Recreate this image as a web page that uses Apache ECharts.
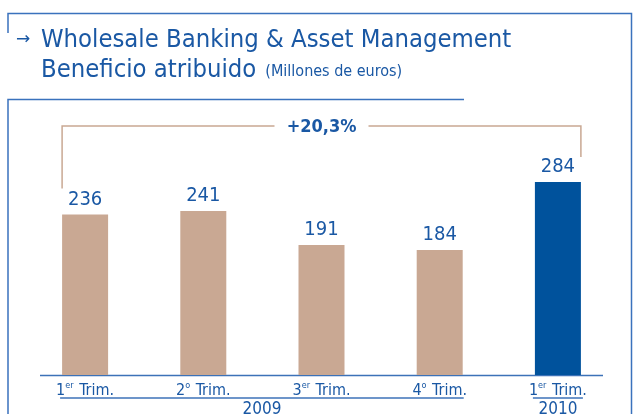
<!DOCTYPE html>
<html>
<head>
<meta charset="utf-8">
<script src="https://cdn.jsdelivr.net/npm/echarts@6/dist/echarts.min.js"></script>
<style>
  html, body { margin: 0; padding: 0; background: #fff; }
  #chart { width: 634px; height: 414px; }
</style>
</head>
<body>
<div id="chart"></div>
<script>
// Quarterly attributable profit, millions of euros
const quarters = ['1er Trim.', '2º Trim.', '3er Trim.', '4º Trim.', '1er Trim.'];
const years = ['2009', '2010'];
const profit = [236, 241, 191, 184, 284];
const growthLabel = '+20,3%';

const BLUE = '#1a58a4';
const BAR_BLUE = '#00529c';
const TAN = '#c9a893';
const FRAME = '#3a72bd';
const FONT = '"Liberation Sans Narrow", "DejaVu Sans Condensed", "Liberation Sans", sans-serif';

// split "1er Trim." into number, superscript and rest for rich text
function quarterLabel(q) {
  const m = q.match(/^(\d)(er|º)\s(.*)$/);
  if (!m) return q;
  return '{n|' + m[1] + '}{s|' + (m[2] === 'º' ? 'o' : m[2]) + '}{n| ' + m[3] + '}';
}

const chart = echarts.init(document.getElementById('chart'));

const option = {
  animation: false,
  grid: { left: 26, right: 17, top: 103, bottom: 39 },
  xAxis: {
    type: 'category',
    data: quarters,
    axisLine: { show: false },
    axisTick: { show: false },
    axisLabel: {
      interval: 0,
      margin: 6,
      formatter: quarterLabel,
      rich: {
        n: { fontFamily: FONT, fontSize: 16, color: BLUE, verticalAlign: 'bottom', lineHeight: 18 },
        s: { fontFamily: FONT, fontSize: 9, color: BLUE, verticalAlign: 'top', padding: [0, 1, 8, 0], lineHeight: 18 }
      }
    }
  },
  yAxis: {
    type: 'value', min: 0, max: 400,
    show: false, splitLine: { show: false }
  },
  series: [{
    type: 'bar',
    barWidth: 46,
    data: profit.map((v, i) => ({
      value: v,
      itemStyle: { color: i === profit.length - 1 ? BAR_BLUE : TAN }
    })),
    label: {
      show: true, position: 'top', distance: 5,
      fontFamily: FONT, fontSize: 20, color: BLUE
    }
  }]
};
chart.setOption(option);

// Frame, title, axis rule, underlines, year captions and growth bracket
function px(i, v) { return chart.convertToPixel({ gridIndex: 0 }, [i, v]); }
const last = profit.length - 1;
const half = 23;
const p0 = px(0, profit[0]);
const pL = px(last, profit[last]);
const p3 = px(3, 0);
const base = px(0, 0)[1];
const mid = px(2, 0)[0];
const bracketY = pL[1] - 56;

const g = [];
// header frame
g.push({ type: 'polyline', shape: { points: [[8, 33], [8, 13.5], [631.5, 13.5], [631.5, 414]] },
  style: { stroke: FRAME, lineWidth: 1.5, fill: null } });
g.push({ type: 'polyline', shape: { points: [[8, 414], [8, 99.5], [464, 99.5]] },
  style: { stroke: FRAME, lineWidth: 1.5, fill: null } });
// title
g.push({ type: 'text', left: 16, top: 31, style: { text: '→', fontFamily: 'DejaVu Sans', fontSize: 17, fill: BLUE } });
g.push({ type: 'text', left: 41, top: 28, style: { text: 'Wholesale Banking & Asset Management',
  fontFamily: FONT, fontSize: 25.4, fill: BLUE } });
g.push({ type: 'text', left: 41, top: 58, style: {
  text: '{a|Beneficio atribuido}{b|(Millones de euros)}',
  rich: {
    a: { fontFamily: FONT, fontSize: 25.4, fill: BLUE, verticalAlign: 'bottom', padding: [0, 9, 0, 0] },
    b: { fontFamily: FONT, fontSize: 16, fill: BLUE, verticalAlign: 'bottom', padding: [0, 0, 3, 0] }
  } } });
// axis rule
g.push({ type: 'line', shape: { x1: 40, y1: base + 0.5, x2: 603, y2: base + 0.5 },
  style: { stroke: '#3c72b8', lineWidth: 1.5 } });
// year underlines and captions
const uy = base + 23;
g.push({ type: 'line', shape: { x1: p0[0] - 25, y1: uy, x2: p3[0] + 24, y2: uy }, style: { stroke: '#3c72b8', lineWidth: 1.5 } });
g.push({ type: 'line', shape: { x1: pL[0] - 25, y1: uy, x2: pL[0] + 25, y2: uy }, style: { stroke: '#3c72b8', lineWidth: 1.5 } });
g.push({ type: 'text', x: (p0[0] - 25 + p3[0] + 24) / 2, y: uy + 3, style: { text: years[0], fontFamily: FONT, fontSize: 17, fill: BLUE, textAlign: 'center', textVerticalAlign: 'top' } });
g.push({ type: 'text', x: pL[0], y: uy + 3, style: { text: years[1], fontFamily: FONT, fontSize: 17, fill: BLUE, textAlign: 'center', textVerticalAlign: 'top' } });
// growth bracket
g.push({ type: 'polyline', shape: { points: [[p0[0] - half, p0[1] - 26], [p0[0] - half, bracketY], [mid - 47, bracketY]] },
  style: { stroke: TAN, lineWidth: 1.5, fill: null } });
g.push({ type: 'polyline', shape: { points: [[mid + 47, bracketY], [pL[0] + half, bracketY], [pL[0] + half, pL[1] - 25]] },
  style: { stroke: TAN, lineWidth: 1.5, fill: null } });
g.push({ type: 'text', x: mid, y: bracketY + 1, style: { text: growthLabel, fontFamily: FONT, fontSize: 18, fontWeight: 'bold', fill: BLUE, textAlign: 'center', textVerticalAlign: 'middle' } });

chart.setOption({ graphic: g });
</script>
</body>
</html>
